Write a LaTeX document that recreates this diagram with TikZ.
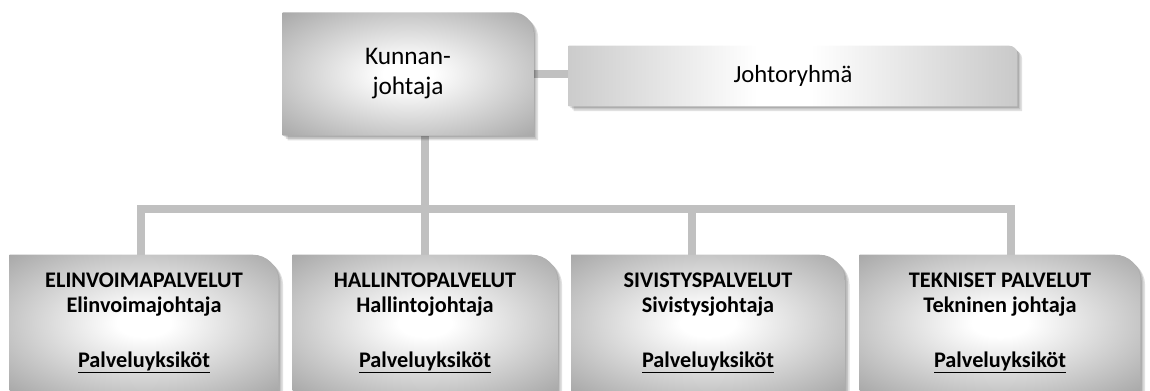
\documentclass[tikz,border=0pt]{standalone}
\usepackage{fontspec}
\setmainfont{Carlito}
\usetikzlibrary{backgrounds}
\definecolor{org_gray}{RGB}{150,150,150}
\definecolor{org_line}{RGB}{192,192,192}
\pgfdeclareradialshading{org_glow}{\pgfpoint{0bp}{0bp}}{color(0bp)=(white); color(5bp)=(white); color(42bp)=(org_gray); color(72bp)=(org_gray!88!black)}
\pgfdeclarehorizontalshading{org_band}{100bp}{color(0bp)=(org_gray!95!black); color(46bp)=(white); color(52bp)=(white); color(100bp)=(org_gray!95!black)}
\tikzstyle{chief}=[rectangle,inner sep=0pt,minimum width=187.5pt,minimum height=92pt,
  align=center,font=\fontsize{19}{22.5}\selectfont]
\tikzstyle{team}=[rectangle,inner sep=0pt,minimum width=336pt,minimum height=45pt,
  font=\fontsize{18.5}{22}\selectfont]
\tikzstyle{unit}=[rectangle,inner sep=0pt,minimum height=102pt,
  align=center,font=\fontsize{16.7}{19}\selectfont\bfseries]
\tikzstyle{wire}=[draw=org_line,line width=5.5pt]
\tikzstyle{dropshade}=[fill=black,opacity=0.12]
\newcommand{\tabshape}[3]{%
  \foreach \d in {1.2pt,2.4pt,3.6pt} {
    \fill[style=dropshade] ([shift={(\d,-\d)}]#1.south west) -- ([shift={(\d,-\d)}]#1.north west)
      -- ([shift={(\d-#2,-\d)}]#1.north east) arc[start angle=90,end angle=0,radius=#2]
      -- ([shift={(\d,-\d)}]#1.south east) -- cycle;
  }
  \shade[shading=#3] (#1.south west) -- (#1.north west) -- ([xshift=-#2]#1.north east)
    arc[start angle=90,end angle=0,radius=#2] -- (#1.south east) -- cycle;}

\begin{document}
\begin{tikzpicture}[x=0.75pt,y=0.75pt]
    \useasboundingbox (0,0) rectangle (1150,-391);
    \node [style=chief] (kunnan) at (408,-74) {Kunnan-\\johtaja};
    \node [style=team] (johto) at (793,-76) {Johtoryhmä};
    \node [style=unit,minimum width=201pt] (b1) at (144,-323)
      {ELINVOIMAPALVELUT\\Elinvoimajohtaja\\[22pt]\underline{Palveluyksiköt}};
    \node [style=unit,minimum width=198pt] (b2) at (425,-323)
      {HALLINTOPALVELUT\\Hallintojohtaja\\[22pt]\underline{Palveluyksiköt}};
    \node [style=unit,minimum width=204.75pt] (b3) at (708,-323)
      {SIVISTYSPALVELUT\\Sivistysjohtaja\\[22pt]\underline{Palveluyksiköt}};
    \node [style=unit,minimum width=210pt] (b4) at (1000,-323)
      {TEKNISET PALVELUT\\Tekninen johtaja\\[22pt]\underline{Palveluyksiköt}};
    \coordinate (busL) at (141,-209);
    \coordinate (busR) at (1011,-209);
    \coordinate (drop3) at (692,-209);
    \begin{scope}[on background layer]
      \draw [style=wire] (kunnan.east) -- (kunnan.east -| johto.west);
      \draw [style=wire] (kunnan.south -| b2.north) -- (b2.north);
      \draw [style=wire] (busL |- b1.north) -- (busL) -- (busR) -- (busR |- b4.north);
      \draw [style=wire] (drop3) -- (drop3 |- b3.north);
      \tabshape{kunnan}{15pt}{org_glow}
      \tabshape{johto}{6pt}{org_band}
      \tabshape{b1}{19pt}{org_glow}
      \tabshape{b2}{19pt}{org_glow}
      \tabshape{b3}{19pt}{org_glow}
      \tabshape{b4}{19pt}{org_glow}
    \end{scope}
  \end{tikzpicture}
\end{document}
